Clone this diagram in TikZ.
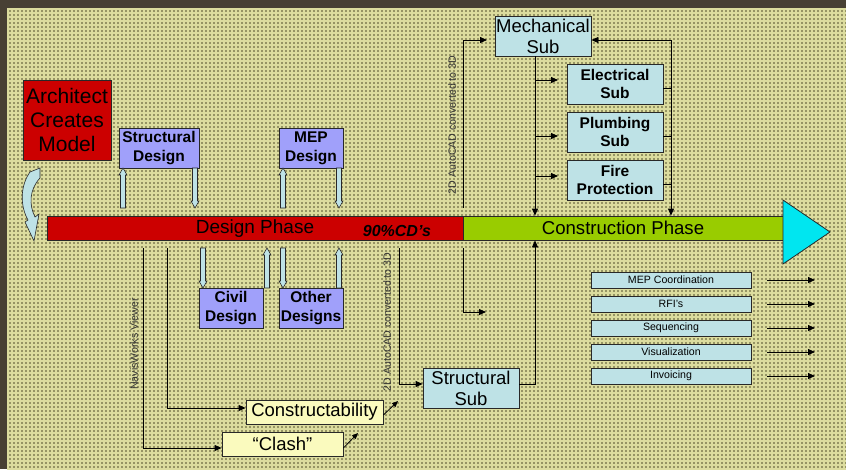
\documentclass[tikz,border=0pt]{standalone}
\usepackage{fontspec}
\setmainfont{Liberation Sans}
\usetikzlibrary{arrows.meta,calc}
\definecolor{bgdark}{RGB}{72,64,52}
\definecolor{bgmain}{RGB}{150,148,100}
\definecolor{bggrid}{RGB}{220,220,158}
\definecolor{archred}{RGB}{204,0,0}
\definecolor{lav}{RGB}{160,160,250}
\definecolor{subblue}{RGB}{190,226,230}
\definecolor{paleyel}{RGB}{250,250,190}
\definecolor{cpgreen}{RGB}{153,204,0}
\definecolor{tri}{RGB}{0,230,240}
\definecolor{edge}{RGB}{40,40,40}
\definecolor{lbl}{RGB}{50,50,50}
\tikzset{
  box/.style={draw=edge,line width=0.8pt,inner sep=0pt,align=center,text=black},
  designbox/.style={box,fill=lav,font=\fontsize{15.5}{19}\selectfont\bfseries},
  subbox/.style={box,fill=subblue,font=\fontsize{15.5}{18}\selectfont\bfseries},
  bigsub/.style={box,fill=subblue,font=\fontsize{18.5}{21}\selectfont},
  yelbox/.style={box,fill=paleyel,font=\fontsize{18.5}{21}\selectfont},
  listbox/.style={box,fill=subblue,minimum width=160,minimum height=16,font=\fontsize{10.6}{12}\selectfont},
  conn/.style={draw=black,line width=0.8pt,-{Triangle[length=7pt,width=6pt]}},
  plainconn/.style={draw=black,line width=0.8pt},
  vlabel/.style={rotate=90,text=lbl,font=\fontsize{10.6}{12}\selectfont,inner sep=0pt},
  barrow/.style={fill=subblue,draw=edge,line width=0.6pt},
}
\newcommand\UpBArrow[3]{\draw[barrow] (#1-2.5,#2) -- (#1-2.5,#3+7) -- (#1-4,#3+7) -- (#1,#3) -- (#1+4,#3+7) -- (#1+2.5,#3+7) -- (#1+2.5,#2) -- cycle;}
\newcommand\DownBArrow[3]{\draw[barrow] (#1-2.5,#2) -- (#1-2.5,#3-7) -- (#1-4,#3-7) -- (#1,#3) -- (#1+4,#3-7) -- (#1+2.5,#3-7) -- (#1+2.5,#2) -- cycle;}
\begin{document}
\begin{tikzpicture}[x=1pt,y=-1pt]
\useasboundingbox (0,0) rectangle (846,469);
% background
\fill[bgdark] (0,0) rectangle (846,469);
\fill[bgmain] (7,8) rectangle (846,469);
\begin{scope}
\clip (7,8) rectangle (846,469);
\foreach \i in {0,...,210}{
  \draw[bggrid,line width=1.3pt] ({8+4*\i},8) -- ({8+4*\i},469);
}
\foreach \j in {0,...,116}{
  \draw[bggrid,line width=1.3pt] (7,{9+4*\j}) -- (846,{9+4*\j});
}
\end{scope}

% Architect
\node[box,fill=archred,minimum width=88,minimum height=80,font=\fontsize{21}{24}\selectfont] (arch) at (67,120) {Architect\\Creates\\Model};

% curved arrow
\draw[barrow] (30,172) .. controls (20,186) and (20,206) .. (28,220) -- (25,222) -- (34,241) -- (39,214) -- (35,217) .. controls (29,205) and (29,190) .. (40,178) -- (40,168) -- cycle;

% design boxes
\node[designbox,minimum width=80,minimum height=40] (sd) at (159,148) {Structural\\Design};
\node[designbox,minimum width=64,minimum height=40] (mep) at (311,148) {MEP\\Design};
\node[designbox,minimum width=64,minimum height=40] (civ) at (231,308) {Civil\\Design};
\node[designbox,minimum width=64,minimum height=40] (oth) at (311,308) {Other\\Designs};

% phase bars
\node[box,fill=archred,minimum width=416,minimum height=24] (dp) at (255,228) {};
\node[font=\fontsize{19}{22}\selectfont,inner sep=0pt] (dpt) at (255,229) {Design Phase};
\node[font=\fontsize{16}{19}\selectfont\bfseries\itshape,inner sep=0pt] (cdt) at (397,231) {90\%CD’s};
\node[box,fill=cpgreen,minimum width=320,minimum height=24,font=\fontsize{18.6}{21}\selectfont] (cp) at (623,228) {Construction Phase};
\draw[fill=tri,draw=edge,line width=0.8pt] (783,200) -- (830,232) -- (783,264) -- cycle;

% block arrows
\UpBArrow{123}{208}{168}
\DownBArrow{195}{168}{208}
\UpBArrow{283}{208}{168}
\DownBArrow{339}{168}{208}
\DownBArrow{203}{248}{288}
\UpBArrow{267}{288}{248}
\DownBArrow{283}{248}{288}
\UpBArrow{339}{288}{248}

% subs
\node[bigsub,minimum width=96,minimum height=40] (mech) at (543,36) {Mechanical\\Sub};
\node[subbox,minimum width=96,minimum height=40] (elec) at (615,84) {Electrical\\Sub};
\node[subbox,minimum width=96,minimum height=40] (plum) at (615,132) {Plumbing\\Sub};
\node[subbox,minimum width=96,minimum height=40] (fire) at (615,180) {Fire\\Protection};
\node[bigsub,minimum width=96,minimum height=40] (ss) at (471,388) {Structural\\Sub};
\node[yelbox,minimum width=137,minimum height=24] (cons) at (314.5,412) {Constructability};
\node[yelbox,minimum width=121,minimum height=24] (clash) at (282.5,444) {“Clash”};

% list
\node[listbox] (l1) at (671,280) {MEP Coordination};
\node[listbox] (l2) at (671,304) {RFI’s};
\node[listbox] (l3) at (671,328) {Sequencing};
\node[listbox] (l4) at (671,352) {Visualization};
\node[listbox] (l5) at (671,376) {Invoicing};
\foreach \n/\y in {1/280,2/304,3/328,4/352,5/376}{
  \coordinate (la\n) at (767,\y);
  \coordinate (lb\n) at (815,\y);
  \draw[conn] (la\n) -- (lb\n);
}

% connectors top
\draw[conn] (mech.south -| 535,0) -- (cp.north -| 535,0);
\foreach \y in {80,136,176}{
  \draw[conn] (535,\y) -- (558,\y);
}
\draw[plainconn] (elec.east |- 0,88) -- (671,88);
\draw[plainconn] (plum.east |- 0,136) -- (671,136);
\draw[plainconn] (fire.east |- 0,184) -- (671,184);
\draw[conn,{Triangle[length=7pt,width=6pt]}-{Triangle[length=7pt,width=6pt]}] (mech.east |- 0,40) -- (671,40) -- (cp.north -| 671,0);
\coordinate (m1) at (463,208);
\coordinate (m2) at (487,40);
\draw[conn] (m1) |- (m2);
\node[vlabel] (lab1) at (452,125) {2D AutoCAD converted to 3D};

% connectors bottom
\coordinate (b1) at (463,248);
\coordinate (b2) at (486,312);
\draw[conn] (b1) |- (b2);
\draw[conn] (ss.east |- 0,384) -- (535,384) -- (cp.south -| 535,0);
\coordinate (s1) at (399,248);
\draw[conn] (s1) |- (ss.west |- 0,384);
\node[vlabel] (lab2) at (387,322) {2D AutoCAD converted to 3D};
\coordinate (c1) at (167,248);
\draw[conn] (c1) |- (cons.west |- 0,408);
\coordinate (k1) at (143,248);
\draw[conn] (k1) |- (clash.west |- 0,448);
\node[vlabel] (lab3) at (134,344) {NavisWorks Viewer};
\coordinate (d1) at (398,401);
\coordinate (d2) at (358,433);
\draw[conn,-{Triangle[length=6pt,width=5pt]}] (cons.east |- 0,415) -- (d1);
\draw[conn,-{Triangle[length=6pt,width=5pt]}] (clash.east |- 0,448) -- (d2);
\end{tikzpicture}
\end{document}
